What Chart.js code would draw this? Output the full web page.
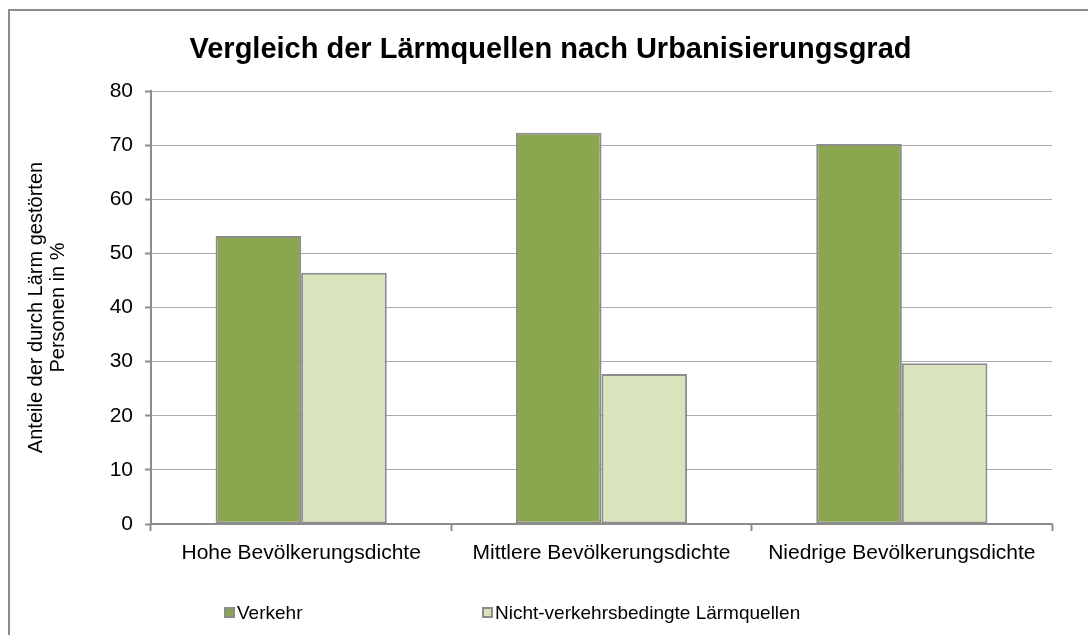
<!DOCTYPE html>
<html lang="de">
<head>
  <meta charset="UTF-8">
  <title>Vergleich der Lärmquellen nach Urbanisierungsgrad</title>
  <script src="https://cdn.jsdelivr.net/npm/chart.js"></script>
  <style>
    html, body { margin: 0; padding: 0; background: #fff; }
    body { width: 1088px; height: 635px; position: relative; overflow: hidden;
           font-family: "Liberation Sans", Arial, sans-serif; }
    .frame {
      position: absolute; left: 8px; top: 9px; width: 1100px; height: 700px;
      border: 2px solid #8c8c8c; box-sizing: border-box;
    }
    #chart { position: absolute; left: 0; top: 0; }
    .title {
      position: absolute; left: 0; top: 31px; width: 1101px; text-align: center;
      font-weight: bold; font-size: 29px; line-height: 34px; color: #000;
    }
    .legend { position: absolute; top: 601px; font-size: 19px; line-height: 24px; color: #000; }
    .legend span.box {
      display: inline-block; width: 7px; height: 7px; border: 2px solid #8c8c8c;
      margin-right: 2px; vertical-align: 1px;
    }
  </style>
</head>
<body>
  <div class="frame"></div>
  <canvas id="chart" width="1088" height="635"></canvas>
  <div class="title">Vergleich der Lärmquellen nach Urbanisierungsgrad</div>
  <div id="legend"></div>
  <script>
    const categories = ['Hohe Bevölkerungsdichte', 'Mittlere Bevölkerungsdichte', 'Niedrige Bevölkerungsdichte'];
    const verkehr = [53.2, 72.3, 70.2];
    const nichtVerkehr = [46.4, 27.7, 29.7];
    const seriesNames = ['Verkehr', 'Nicht-verkehrsbedingte Lärmquellen'];
    const seriesColors = ['#8aa64f', '#d8e4bc'];
    const yTitle = ['Anteile der durch Lärm gestörten', 'Personen in %'];

    // legend in html, Excel style
    const legendX = [224, 482];
    const legendEl = document.getElementById('legend');
    seriesNames.forEach((name, i) => {
      const d = document.createElement('div');
      d.className = 'legend';
      d.style.left = legendX[i] + 'px';
      d.innerHTML = '<span class="box" style="background:' + seriesColors[i] + '"></span>' + name;
      legendEl.appendChild(d);
    });

    const font = { family: '"Liberation Sans", Arial, sans-serif', size: 21 };

    new Chart(document.getElementById('chart'), {
      type: 'bar',
      data: {
        labels: categories,
        datasets: [{
          label: seriesNames[0],
          data: verkehr,
          backgroundColor: seriesColors[0],
          borderColor: '#8c8c8c',
          borderWidth: 2,
          borderSkipped: false
        }, {
          label: seriesNames[1],
          data: nichtVerkehr,
          backgroundColor: seriesColors[1],
          borderColor: '#8c8c8c',
          borderWidth: 2,
          borderSkipped: false
        }]
      },
      options: {
        responsive: false,
        animation: false,
        devicePixelRatio: 1,
        datasets: { bar: { categoryPercentage: 0.57, barPercentage: 1 } },
        layout: { padding: { top: 91, right: 36, bottom: 71, left: 0 } },
        plugins: {
          legend: { display: false },
          title: { display: false },
          tooltip: { enabled: false }
        },
        scales: {
          x: {
            offset: true,
            grid: { offset: true, drawOnChartArea: false, tickLength: 7, tickColor: '#8c8c8c', tickWidth: 2 },
            border: { color: '#8c8c8c', width: 2 },
            ticks: { color: '#000', font: font, padding: 10, maxRotation: 0 },
            afterFit: (s) => { s.height = 40; }
          },
          y: {
            min: 0,
            max: 80,
            ticks: { stepSize: 10, color: '#000', font: font, padding: 12 },
            grid: { color: '#ababab', lineWidth: 1, tickLength: 6, tickColor: '#8c8c8c', tickWidth: 2 },
            border: { color: '#8c8c8c', width: 2 },
            title: {
              display: true,
              text: yTitle,
              color: '#000',
              font: { family: font.family, size: 20, lineHeight: 1.1 },
              padding: { top: 25, bottom: 0 }
            },
            afterFit: (s) => { s.width = 151; }
          }
        }
      }
    });
  </script>
</body>
</html>
